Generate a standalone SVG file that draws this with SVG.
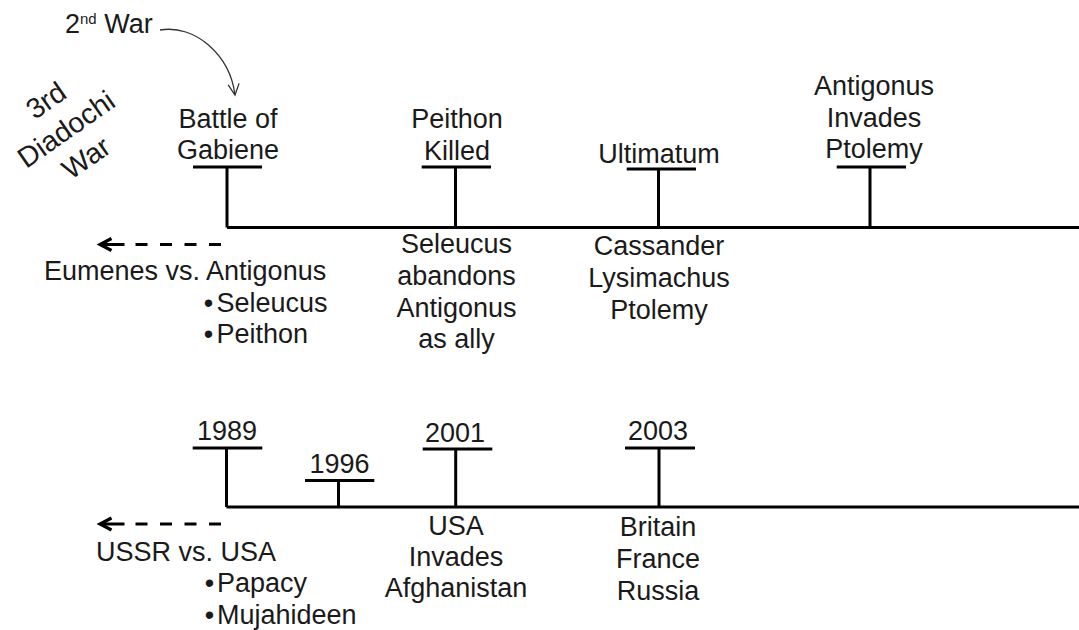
<svg xmlns="http://www.w3.org/2000/svg" width="1079" height="630" viewBox="0 0 1079 630">
<style>
text{font-family:"Liberation Sans",Arial,sans-serif;font-size:27px;fill:#1a1a1a}
.c{text-anchor:middle}
.rot{font-size:28.5px}
.ln{stroke:#000;stroke-width:3;fill:none}
.dash{stroke:#000;stroke-width:3;fill:none;stroke-dasharray:12 12.5 12 12.5 12 12.5 12 11 26}
.thin{stroke:#333;stroke-width:1.3;fill:none}
</style>
<defs>
<marker id="chev" markerUnits="userSpaceOnUse" markerWidth="16" markerHeight="16" refX="13" refY="8" orient="auto" overflow="visible">
<path d="M1.5,2 L13,8 L1.5,14" fill="none" stroke="#000" stroke-width="3.2"/>
</marker>
<marker id="open" markerUnits="userSpaceOnUse" markerWidth="14" markerHeight="14" refX="12" refY="6" orient="auto" overflow="visible">
<path d="M1,0.5 L12,6 L1,11.5" fill="none" stroke="#333" stroke-width="1.3"/>
</marker>
</defs>
<rect width="1079" height="630" fill="#fff"/>

<g id="connectors">
<path class="ln" d="M227,227.5 H1079"/>
<path class="ln" d="M193,167 H262 M227,167 V227.5"/>
<path class="ln" d="M421.7,167 H491 M455.5,167 V227.5"/>
<path class="ln" d="M626.7,169 H696 M658.5,169 V227.5"/>
<path class="ln" d="M836.7,167 H906 M870,167 V227.5"/>
<path class="dash" d="M221,244.5 H100" marker-end="url(#chev)"/>
<path class="thin" d="M160,30 C195,24 230,55 235,95" marker-end="url(#open)"/>

<path class="ln" d="M226.5,507 H1079"/>
<path class="ln" d="M192.7,448 H262.3 M226.5,448 V507"/>
<path class="ln" d="M305,480.5 H374.3 M338.5,480.5 V507"/>
<path class="ln" d="M422.7,449 H492.3 M455.7,449 V507"/>
<path class="ln" d="M625,448 H695 M659,448 V507"/>
<path class="dash" d="M221,524 H100" marker-end="url(#chev)"/>
</g>

<g id="title-3rd">
<g transform="translate(66,129) rotate(-35)">
<text class="c rot" x="0" y="-25">3rd</text>
<text class="c rot" x="0" y="10">Diadochi</text>
<text class="c rot" x="0" y="45">War</text>
</g>
</g>

<g id="note-2nd-war">
<text x="65" y="33">2<tspan font-size="15" dy="-9">nd</tspan><tspan dy="9"> War</tspan></text>
</g>

<g id="ev-gabiene">
<text class="c" x="228" y="128">Battle of</text>
<text class="c" x="228" y="159">Gabiene</text>
</g>
<g id="ev-peithon">
<text class="c" x="457" y="128">Peithon</text>
<text class="c" x="457" y="160">Killed</text>
</g>
<g id="ev-ultimatum">
<text class="c" x="659" y="162.5">Ultimatum</text>
</g>
<g id="ev-antigonus">
<text class="c" x="874" y="95">Antigonus</text>
<text class="c" x="874" y="126.5">Invades</text>
<text class="c" x="874" y="158">Ptolemy</text>
</g>
<g id="note-seleucus">
<text class="c" x="456.5" y="253">Seleucus</text>
<text class="c" x="456.5" y="285">abandons</text>
<text class="c" x="456.5" y="316.5">Antigonus</text>
<text class="c" x="456.5" y="348">as ally</text>
</g>
<g id="note-cassander">
<text class="c" x="659" y="255">Cassander</text>
<text class="c" x="659" y="287">Lysimachus</text>
<text class="c" x="659" y="319">Ptolemy</text>
</g>
<g id="note-eumenes">
<text x="44" y="280">Eumenes vs. Antigonus</text>
<text class="c" x="208.5" y="312">•</text>
<text x="216.5" y="312">Seleucus</text>
<text class="c" x="208.5" y="343">•</text>
<text x="216.5" y="343">Peithon</text>
</g>

<g id="ev-1989"><text class="c" x="227" y="440">1989</text></g>
<g id="ev-1996"><text class="c" x="339.5" y="473">1996</text></g>
<g id="ev-2001"><text class="c" x="455" y="442">2001</text></g>
<g id="ev-2003"><text class="c" x="658" y="440">2003</text></g>
<g id="note-usa">
<text class="c" x="456" y="534.5">USA</text>
<text class="c" x="456" y="565.5">Invades</text>
<text class="c" x="456" y="596.5">Afghanistan</text>
</g>
<g id="note-britain">
<text class="c" x="658" y="536">Britain</text>
<text class="c" x="658" y="568">France</text>
<text class="c" x="658" y="600">Russia</text>
</g>
<g id="note-ussr">
<text x="96" y="561">USSR vs. USA</text>
<text class="c" x="209.5" y="592">•</text>
<text x="217" y="592">Papacy</text>
<text class="c" x="209.5" y="623.5">•</text>
<text x="217" y="623.5">Mujahideen</text>
</g>
</svg>
